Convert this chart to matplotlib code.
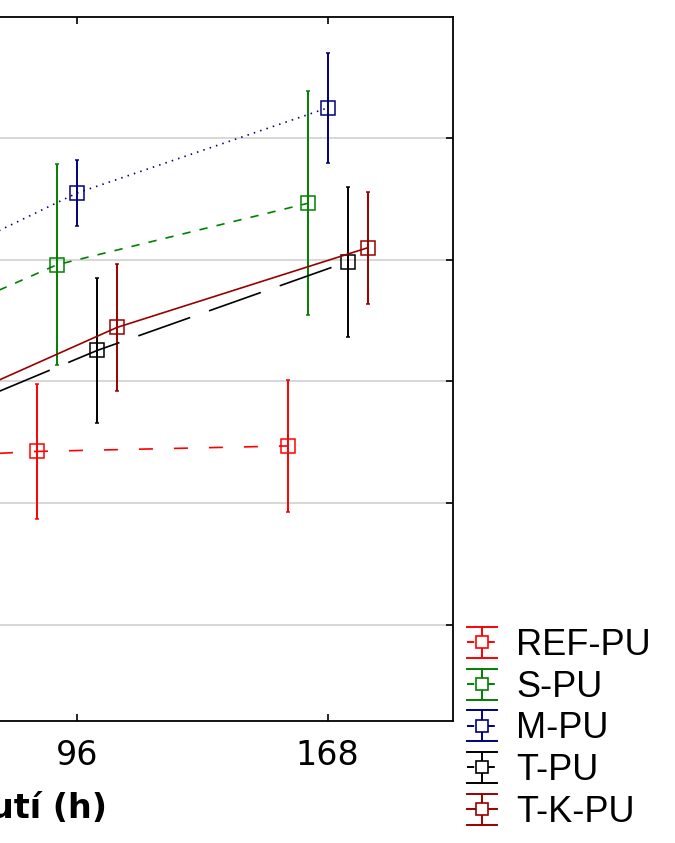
import numpy as np
import matplotlib
matplotlib.use('Agg')
import matplotlib.pyplot as plt
from matplotlib.lines import Line2D
from matplotlib.legend_handler import HandlerBase

plt.rcParams['font.family'] = ['DejaVu Sans']

# kategorie doby (h) - levá část grafu je oříznutá
times = ['48', '96', '168']
series = ['REF-PU', 'S-PU', 'M-PU', 'T-PU', 'T-K-PU']

ref_pu = [4.64, 4.85, 4.94]
s_pu = [6.11, 7.92, 8.93]
m_pu = [7.11, 9.10, 10.50]
t_pu = [4.79, 6.51, 7.97]
tk_pu = [5.05, 6.89, 8.20]

ref_err = [1.10, 1.11, 1.09]
s_err = [1.70, 1.65, 1.84]
m_err = [0.70, 0.54, 0.90]
t_err = [1.20, 1.19, 1.23]
tk_err = [1.00, 1.04, 0.92]

colors = ['#ff0000', '#008000', '#000080', '#000000', '#990000']
styles = [(0, (8.4, 12.6)), (0, (5, 5.5)), (0, (0.9, 3.1)), (0, (33, 12)), '-']
offsets = [-0.16, -0.08, 0.0, 0.08, 0.16]


class ErrHandler(HandlerBase):
    # legenda ve stylu Statistica: široké "čepičky", svislá čára, čtvereček
    def create_artists(self, legend, orig_handle, xdescent, ydescent,
                       width, height, fontsize, trans):
        c = orig_handle.get_color()
        ls = orig_handle.get_linestyle()
        x0, x1 = -xdescent, -xdescent + width
        y0, y1 = -ydescent, -ydescent + height
        xm, ym = (x0 + x1) / 2, (y0 + y1) / 2
        arts = [
            Line2D([x0, x1], [y1, y1], color=c, lw=1.4),
            Line2D([x0, x1], [y0, y0], color=c, lw=1.4),
            Line2D([xm, xm], [y0, y1], color=c, lw=1.4),
            Line2D([x0, x1], [ym, ym], color=c, lw=1.4, linestyle=ls),
            Line2D([xm], [ym], color=c, marker='s', ms=9, mfc='white',
                   mec=c, mew=1.2, linestyle='none'),
        ]
        for a in arts:
            a.set_transform(trans)
        return arts


fig = plt.figure(figsize=(6.75, 8.43), dpi=100)
ax = fig.add_axes([-299 / 675, 122 / 843, 752 / 675, 704.3 / 843])

x = np.arange(len(times))
data = [ref_pu, s_pu, m_pu, t_pu, tk_pu]
errs = [ref_err, s_err, m_err, t_err, tk_err]
handles = []
for name, vals, err, col, ls, off in zip(series, data, errs, colors, styles, offsets):
    ax.errorbar(x + off, vals, yerr=err, color=col, linestyle=ls, lw=1.2,
                marker='s', ms=10, mfc='none', mec=col, mew=1.1,
                elinewidth=1.4, capsize=1.5, capthick=2)
    handles.append(Line2D([], [], color=col, linestyle=ls, label=name))

ax.set_xlim(-0.5, 2.5)
ax.set_ylim(0.416, 12)
ax.set_xticks(x)
ax.set_xticklabels(times, fontsize=24)
ax.set_yticks([2, 4, 6, 8, 10])
ax.tick_params(axis='both', direction='in', length=5, width=1.2,
               top=True, right=True, labelsize=24, pad=13)
ax.grid(axis='y', color='#d4d4d4', lw=1.3)
ax.set_axisbelow(True)
for sp in ax.spines.values():
    sp.set_linewidth(1.3)

lab = ax.set_xlabel('Doba bobtnutí (h)', fontsize=24, fontweight='bold',
                    ha='right', va='center')
ax.xaxis.set_label_coords((107 + 299) / 752, -87 / 704.3)

fig.legend(handles=handles, loc='upper left',
           bbox_to_anchor=(467 / 675, 1 - 627 / 843), frameon=False,
           prop={'family': ['Liberation Sans', 'DejaVu Sans'], 'size': 26},
           handler_map={Line2D: ErrHandler()},
           handlelength=0.83, handleheight=0.94, handletextpad=0.53,
           labelspacing=0.16, borderpad=0, borderaxespad=0)

fig.savefig('out.png', dpi=100)
